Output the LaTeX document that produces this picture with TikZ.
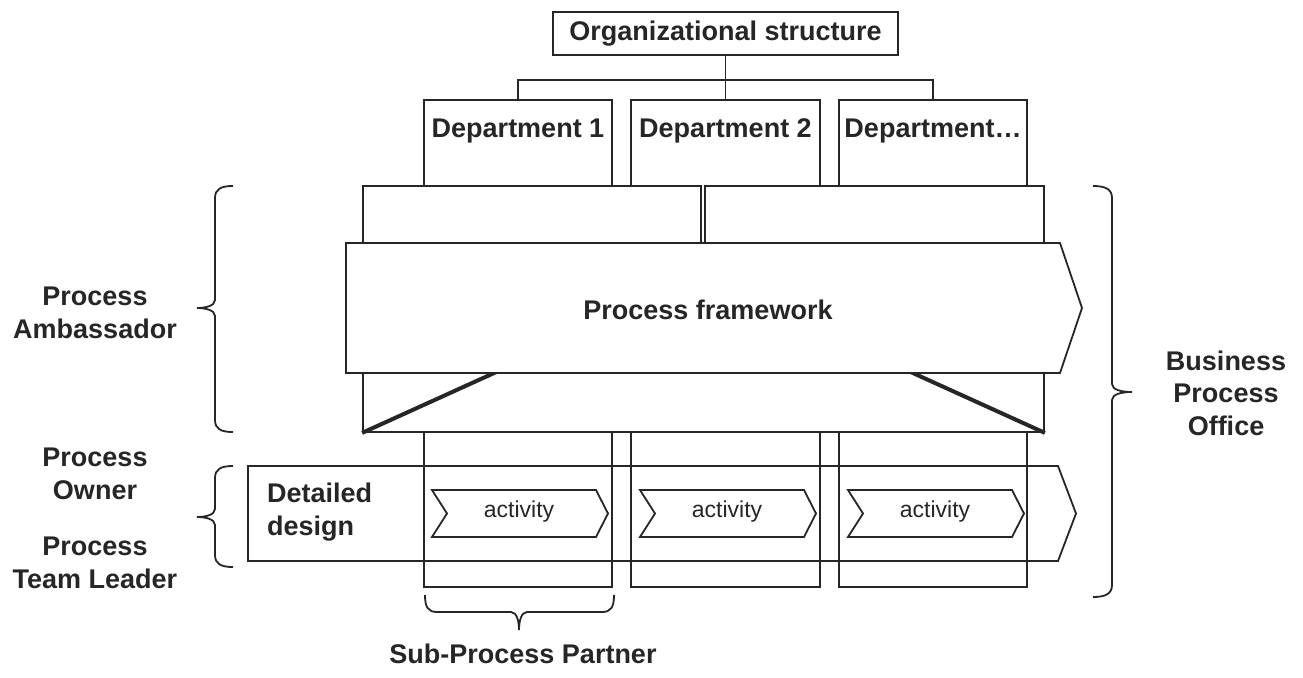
\documentclass[tikz,border=0pt]{standalone}
\usepackage{fontspec}
\setmainfont{Liberation Sans}
\usetikzlibrary{positioning}
\definecolor{inkdark}{HTML}{262626}

\begin{document}
\begin{tikzpicture}[x=1pt, y=-1pt,
    wire/.style={draw=inkdark, line width=1.8pt},
    heavywire/.style={draw=inkdark, line width=4pt},
    box/.style={wire, rectangle, inner sep=0pt, fill=white},
    lbl/.style={font=\fontsize{27}{32.5}\selectfont\bfseries, text=inkdark, align=center, inner sep=0pt},
    actlbl/.style={font=\fontsize{23}{27}\selectfont, text=inkdark, inner sep=0pt},
  ]
  \useasboundingbox (0,0) rectangle (1303,677);

  % ---- organisation on top
  \node[box, minimum width=345pt, minimum height=43pt] (org) at (725.5,33.5) {};
  \node[lbl] (orgtxt) at (org) {Organizational structure};
  \coordinate (hub) at (725.5,80);

  % ---- department columns, running down behind the framework
  \foreach \i/\x/\w/\t in {1/518/188/{Department 1}, 2/725.5/189/{Department 2}, 3/933/188/{Department…}} {
    \node[box, minimum width=\w pt, minimum height=487pt] (d\i) at (\x,343.5) {};
    \node[lbl, anchor=base] (dt\i) at ([yshift=-38pt]d\i.north) {\t};
  }
  \draw[wire] (org.south) -- (hub);
  \foreach \i in {1,2,3} \draw[wire] (hub) -| (d\i.north);

  % ---- two boxes above the framework
  \node[box, minimum width=338pt, minimum height=57pt] (ub1) at (532,214.5) {};
  \node[box, minimum width=339pt, minimum height=57pt] (ub2) at (874.5,214.5) {};

  % ---- funnel below the framework
  \node[box, minimum width=681pt, minimum height=59pt] (funnel) at (703.5,402.5) {};
  \draw[heavywire] (funnel.south west) -- ([xshift=134pt]funnel.north west);
  \draw[heavywire] (funnel.south east) -- ([xshift=-134pt]funnel.north east);

  % ---- the framework arrow
  \draw[wire, fill=white] (346,243) -- (1060,243) -- (1082,308) -- (1060,373) -- (346,373) -- cycle;
  \node[lbl] (fw) at (708,310) {Process framework};

  % ---- detailed design arrow with its activities
  \draw[wire] (248,466) -- (1058,466) -- (1076,513.5) -- (1058,561) -- (248,561) -- cycle;
  \node[lbl, anchor=west, align=left] (dd) at (267,512) {Detailed\\design};
  \foreach \i/\x in {1/432, 2/640, 3/848} {
    \draw[wire] (\x,490) -- (\x+164,490) -- (\x+176,513.5) -- (\x+164,537) -- (\x,537) -- (\x+15,513.5) -- cycle;
    \node[actlbl] (act\i) at (\x+87,512) {activity};
  }

  % ---- braces
  \draw[wire] (233,186) .. controls (221,186) and (215,189) .. (215,198) -- (215,300)
    .. controls (215,306) and (205,308) .. (197,308) .. controls (205,308) and (215,310) .. (215,316)
    -- (215,420) .. controls (215,429) and (221,432) .. (233,432);
  \draw[wire] (233,466) .. controls (221,466) and (215,469) .. (215,478) -- (215,509)
    .. controls (215,515) and (205,517) .. (197,517) .. controls (205,517) and (215,519) .. (215,525)
    -- (215,555) .. controls (215,564) and (221,567) .. (233,567);
  \draw[wire] (1093,186) .. controls (1105,186) and (1112,189) .. (1112,198) -- (1112,384)
    .. controls (1112,390) and (1122,392) .. (1132,392) .. controls (1122,392) and (1112,394) .. (1112,400)
    -- (1112,585) .. controls (1112,594) and (1105,597) .. (1093,597);
  \draw[wire] (425,595) .. controls (425,607) and (428,612) .. (437,612) -- (511,612)
    .. controls (517,612) and (519,622) .. (519,630) .. controls (519,622) and (521,612) .. (527,612)
    -- (602,612) .. controls (611,612) and (614,607) .. (614,595);

  % ---- roles
  \node[lbl] (amb) at (95,313) {Process\\Ambassador};
  \node[lbl] (own) at (95,474) {Process\\Owner};
  \node[lbl] (lead) at (95,563) {Process\\Team Leader};
  \node[lbl] (bpo) at (1226,393) {Business\\Process\\Office};
  \node[lbl] (spp) at (523,654) {Sub-Process Partner};

\end{tikzpicture}
\end{document}
